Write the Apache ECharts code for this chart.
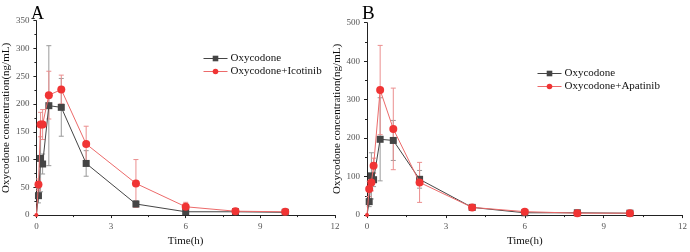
<!DOCTYPE html>
<html>
<head>
<meta charset="utf-8">
<script src="https://cdn.jsdelivr.net/npm/echarts@6/dist/echarts.min.js"></script>
<style>
  html, body { margin: 0; padding: 0; background: #fff; }
  #chart { width: 690px; height: 252px; }
</style>
</head>
<body>
<div id="chart"></div>
<script>
// sampling times (h)
const times = [0, 0.083, 0.167, 0.25, 0.5, 1, 2, 4, 6, 8, 10];
// Oxycodone alone (same control in both panels)
const oxy = [0, 35, 102, 92, 197, 194, 93, 20, 6, 6, 5];
const oxySd = [0, 13, 60, 18, 108, 52, 23, 6, 2, 1, 1];
// Oxycodone + Icotinib (panel A)
const icot = [0, 55, 163, 163, 216, 226, 128, 57, 15, 7, 6];
const icotSd = [0, 10, 22, 27, 43, 26, 32, 43, 8, 2, 2];
// Oxycodone + Apatinib (panel B)
const apat = [0, 68, 85, 128, 325, 224, 85, 20, 9, 5, 5];
const apatSd = [0, 20, 22, 20, 116, 106, 52, 6, 3, 2, 1];

const xTicks = [0, 3, 6, 9, 12];
const serif = 'Liberation Serif';

const pts = (ys) => times.map((t, i) => [t, ys[i]]);
const errs = (ys, sd) => times.map((t, i) => [t, ys[i] - sd[i], ys[i] + sd[i]]).filter((d, i) => sd[i] > 0);

function errRender(color) {
    return function (params, api) {
        const x = api.value(0);
        const top = api.coord([x, api.value(2)]);
        const bot = api.coord([x, api.value(1)]);
        const w = 2.5;
        const st = { stroke: color, lineWidth: 1 };
        return {
            type: 'group',
            children: [
                { type: 'line', shape: { x1: top[0], y1: top[1], x2: bot[0], y2: bot[1] }, style: st },
                { type: 'line', shape: { x1: top[0] - w, y1: top[1], x2: top[0] + w, y2: top[1] }, style: st },
                { type: 'line', shape: { x1: bot[0] - w, y1: bot[1], x2: bot[0] + w, y2: bot[1] }, style: st }
            ]
        };
    };
}

function xAx(idx) {
    return {
        type: 'value', gridIndex: idx, min: 0, max: 12, interval: 3,
        name: 'Time(h)', nameLocation: 'middle', nameGap: 17,
        nameTextStyle: { fontFamily: serif, fontSize: 11, color: '#111' },
        axisLine: { show: true, lineStyle: { color: '#222', width: 1 } },
        axisTick: { show: true, length: 3, lineStyle: { color: '#222' } },
        minorTick: { show: true, splitNumber: 2, length: 2, lineStyle: { color: '#222' } },
        splitLine: { show: false },
        axisLabel: { fontFamily: serif, fontSize: 9, color: '#555', margin: 7,
            formatter: v => xTicks.includes(v) ? String(v) : '' }
    };
}

function yAx(idx, max, interval) {
    return {
        type: 'value', gridIndex: idx, min: 0, max: max, interval: interval,
        name: 'Oxycodone concentration(ng/mL)', nameLocation: 'middle', nameGap: 21,
        nameTextStyle: { fontFamily: serif, fontSize: 11, color: '#111' },
        axisLine: { show: true, lineStyle: { color: '#222', width: 1 } },
        axisTick: { show: true, length: 3, lineStyle: { color: '#222' } },
        minorTick: { show: true, splitNumber: 2, length: 2, lineStyle: { color: '#222' } },
        splitLine: { show: false },
        axisLabel: { fontFamily: serif, fontSize: 9, color: '#555', margin: 7 }
    };
}

const gray = '#454545', grayErr = '#9a9a9a';
const red = '#f03434', redLine = '#ec6a6a', redErr = '#eb8e8e';

function lineSeries(name, data, idx, isRed) {
    const size = isRed ? 8 : 7;
    return {
        name: name, type: 'line', xAxisIndex: idx, yAxisIndex: idx, data: data,
        symbol: isRed ? 'circle' : 'rect',
        symbolSize: v => (v[0] === 0 ? (isRed ? 4 : 0) : size),
        showAllSymbol: true, animation: false, z: isRed ? 4 : 3,
        itemStyle: { color: isRed ? red : gray },
        lineStyle: { color: isRed ? redLine : gray, width: 1 }
    };
}

function errSeries(data, idx, color) {
    return {
        type: 'custom', xAxisIndex: idx, yAxisIndex: idx, data: data,
        encode: { x: 0, y: [1, 2] }, renderItem: errRender(color), z: 2, silent: true, animation: false
    };
}

const legendBase = {
    orient: 'vertical', itemWidth: 24, itemHeight: 7, itemGap: 2, padding: 0,
    lineStyle: { width: 1 },
    textStyle: { fontFamily: serif, fontSize: 11, color: '#111', padding: [0, 0, 0, -2] }
};

var chartDom = document.getElementById('chart');
var myChart = echarts.init(chartDom, null, { renderer: 'canvas' });
var option = {
    animation: false,
    backgroundColor: '#fff',
    title: [
        { text: 'A', left: 26, top: 0, textStyle: { fontFamily: serif, fontSize: 18, fontWeight: 'normal', color: '#000' } },
        { text: 'B', left: 357, top: 0, textStyle: { fontFamily: serif, fontSize: 19, fontWeight: 'normal', color: '#000' } }
    ],
    grid: [
        { left: 32.5, top: 20.7, width: 302.5, height: 196.6 },
        { left: 367, top: 22.7, width: 317.5, height: 196.8 }
    ],
    legend: [
        Object.assign({}, legendBase, { left: 203, top: 53, data: ['Oxycodone', 'Oxycodone+Icotinib'] }),
        Object.assign({}, legendBase, { left: 537, top: 68, data: ['Oxycodone', 'Oxycodone+Apatinib'] })
    ],
    xAxis: [xAx(0), xAx(1)],
    yAxis: [yAx(0, 350, 50), yAx(1, 500, 100)],
    series: [
        errSeries(errs(oxy, oxySd), 0, grayErr),
        errSeries(errs(icot, icotSd), 0, redErr),
        lineSeries('Oxycodone', pts(oxy), 0, false),
        lineSeries('Oxycodone+Icotinib', pts(icot), 0, true),
        errSeries(errs(oxy, oxySd), 1, grayErr),
        errSeries(errs(apat, apatSd), 1, redErr),
        lineSeries('Oxycodone', pts(oxy), 1, false),
        lineSeries('Oxycodone+Apatinib', pts(apat), 1, true)
    ]
};

option && myChart.setOption(option);
</script>
</body>
</html>
